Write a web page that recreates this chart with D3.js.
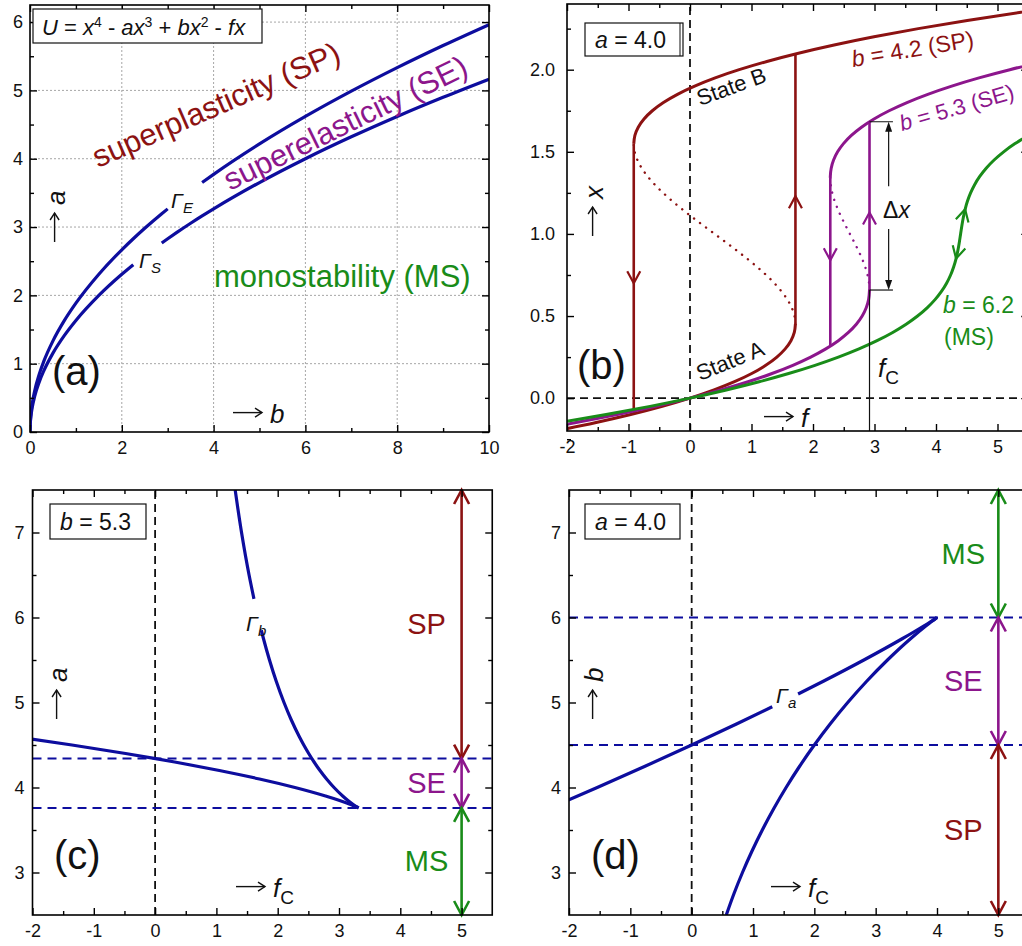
<!DOCTYPE html>
<html>
<head>
<meta charset="utf-8">
<title>Regimes of U = x^4 - ax^3 + bx^2 - fx</title>
<script src="https://cdn.jsdelivr.net/npm/d3@7/dist/d3.min.js"></script>
<style>
  html, body { margin: 0; padding: 0; background: #fff; }
  svg { display: block; }
  text { white-space: pre; }
</style>
</head>
<body>
<svg id="fig" width="1022" height="946" viewBox="0 0 1022 946"></svg>
<script>
// ---------------- data ----------------

// (a) boundaries in the (b, a) plane: Γ_S and Γ_E
const bBoundary = [0, 0.005, 0.01, 0.02, 0.05, 0.1, 0.2, 0.3, 0.5, 0.75, 1, 1.5, 2, 2.25, 2.5, 2.87, 3, 3.2, 3.5, 3.75, 4, 5, 6, 7, 8, 9, 10];
const aGammaS = [0, 0.1155, 0.1633, 0.2309, 0.3651, 0.5164, 0.7303, 0.8944, 1.1547, 1.4142, 1.6330, 2.0000, 2.3094, 2.4495, 2.5820, 2.7665, 2.8284, 2.9212, 3.0551, 3.1623, 3.2660, 3.6515, 4.0000, 4.3205, 4.6188, 4.8990, 5.1640];
const aGammaE = [0, 0.1333, 0.1886, 0.2667, 0.4216, 0.5963, 0.8433, 1.0328, 1.3333, 1.6330, 1.8856, 2.3094, 2.6667, 2.8284, 2.9814, 3.1944, 3.2660, 3.3731, 3.5277, 3.6515, 3.7712, 4.2164, 4.6188, 4.9889, 5.3333, 5.6569, 5.9628];
const gapGammaS = [2.25, 2.87];   // b-range left open for the Γ_S label
const gapGammaE = [3.0, 3.75];    // b-range left open for the Γ_E label

// (b) equilibrium position x versus force f at a = 4.0
const xSP = [-0.2, -0.15, -0.1, -0.05, 0, 0.05, 0.1, 0.15, 0.2, 0.25, 0.3, 0.35, 0.4, 0.4523, 0.5, 0.55, 0.6, 0.65, 0.7, 0.75, 0.8, 0.85, 0.9, 0.95, 1.0, 1.05, 1.1, 1.15, 1.2, 1.25, 1.3, 1.35, 1.4, 1.45, 1.5, 1.5477, 1.6, 1.65, 1.7, 1.75, 1.8, 1.85, 1.9, 1.95, 2.0, 2.05, 2.1, 2.15, 2.2, 2.25, 2.3, 2.35, 2.4];
const fSP = [-2.192, -1.5435, -0.964, -0.4505, 0, 0.3905, 0.724, 1.0035, 1.232, 1.4125, 1.548, 1.6415, 1.696, 1.7145, 1.7, 1.6555, 1.584, 1.4885, 1.372, 1.2375, 1.088, 0.9265, 0.756, 0.5795, 0.4, 0.2205, 0.044, -0.1265, -0.288, -0.4375, -0.572, -0.6885, -0.784, -0.8555, -0.9, -0.9145, -0.896, -0.8415, -0.748, -0.6125, -0.432, -0.2035, 0.076, 0.4095, 0.8, 1.2505, 1.764, 2.3435, 2.992, 3.7125, 4.508, 5.3815, 6.336];
const xSE = [-0.2, -0.15, -0.1, -0.05, 0, 0.05, 0.1, 0.15, 0.2, 0.25, 0.3, 0.35, 0.4, 0.45, 0.5, 0.55, 0.6, 0.6584, 0.7, 0.75, 0.8, 0.85, 0.9, 0.95, 1.0, 1.05, 1.1, 1.15, 1.2, 1.25, 1.3, 1.3416, 1.35, 1.4, 1.45, 1.5, 1.55, 1.6, 1.65, 1.7, 1.75, 1.8, 1.85, 1.9, 1.95, 2.0, 2.05, 2.1];
const fSE = [-2.632, -1.8735, -1.184, -0.5605, 0, 0.5005, 0.944, 1.3335, 1.672, 1.9625, 2.208, 2.4115, 2.576, 2.7045, 2.8, 2.8655, 2.904, 2.9188, 2.912, 2.8875, 2.848, 2.7965, 2.736, 2.6695, 2.6, 2.5305, 2.464, 2.4035, 2.352, 2.3125, 2.288, 2.2812, 2.2815, 2.296, 2.3345, 2.4, 2.4955, 2.624, 2.7885, 2.992, 3.2375, 3.528, 3.8665, 4.256, 4.6995, 5.2, 5.7605, 6.384];
const xMS = [-0.2, -0.15, -0.1, -0.05, 0, 0.05, 0.1, 0.15, 0.2, 0.25, 0.3, 0.35, 0.4, 0.45, 0.5, 0.55, 0.6, 0.65, 0.7, 0.75, 0.8, 0.85, 0.9, 0.95, 1.0, 1.05, 1.1, 1.15, 1.2, 1.25, 1.3, 1.35, 1.4, 1.45, 1.5, 1.55, 1.6, 1.65, 1.7];
const fMS = [-2.992, -2.1435, -1.364, -0.6505, 0, 0.5905, 1.124, 1.6035, 2.032, 2.4125, 2.748, 3.0415, 3.296, 3.5145, 3.7, 3.8555, 3.984, 4.0885, 4.172, 4.2375, 4.288, 4.3265, 4.356, 4.3795, 4.4, 4.4205, 4.444, 4.4735, 4.512, 4.5625, 4.628, 4.7115, 4.816, 4.9445, 5.1, 5.2855, 5.504, 5.7585, 6.052];
const spinodalSP = [0.4523, 1.5477];
const spinodalSE = [0.6584, 1.3416];
const jumpsSP = [{ f: -0.9145, from: 1.5477, to: -0.0954, tip: 0.70 }, { f: 1.7145, from: 0.4523, to: 2.0954, tip: 1.23 }];
const jumpsSE = [{ f: 2.2812, from: 1.3416, to: 0.3169, tip: 0.84 }, { f: 2.9188, from: 0.6584, to: 1.6831, tip: 1.13 }];
const fCritical = 2.9188;              // forward switching force for b = 5.3
const deltaX = [0.6584, 1.6831];       // jump height at f_C

// (c) critical forces versus a at b = 5.3 (Γ_b)
const aForward = [3.7594, 3.77, 3.8, 3.85, 3.9, 4.0, 4.1, 4.2, 4.3, 4.4, 4.5, 4.6, 4.8, 5.0, 5.25, 5.5, 5.75, 5.85, 6.0, 6.22, 6.5, 7.0, 7.5];
const fcForwardC = [3.3208, 3.2955, 3.2322, 3.1407, 3.0598, 2.9188, 2.7973, 2.6898, 2.5933, 2.5056, 2.4254, 2.3513, 2.2186, 2.1027, 1.9762, 1.8658, 1.7684, 1.7326, 1.6816, 1.6126, 1.5330, 1.4101, 1.3063];
const aBackward = [3.7594, 3.77, 3.8, 3.85, 3.9, 4.0, 4.1, 4.2, 4.3, 4.34, 4.4, 4.5, 4.57, 4.6];
const fcBackwardC = [3.3208, 3.2899, 3.1898, 2.9977, 2.7805, 2.2812, 1.7025, 1.0482, 0.3199, 0.0081, -0.4817, -1.3566, -2.0128, -2.3053];
const gapGammaB = [5.85, 6.22];
const bandsC = [{ name: "SP", lo: 4.341, hi: 7.5 }, { name: "SE", lo: 3.759, hi: 4.341 }, { name: "MS", lo: 2.5, hi: 3.759 }];

// (d) critical forces versus b at a = 4.0 (Γ_a)
const bForward = [6.0, 5.99, 5.95, 5.9, 5.75, 5.5, 5.25, 5.0, 4.75, 4.5, 4.25, 4.0, 3.75, 3.5, 3.25, 3.0, 2.75, 2.5];
const fcForwardD = [4.0, 3.9805, 3.9061, 3.8172, 3.5680, 3.1925, 2.8536, 2.5443, 2.2607, 2.0, 1.7601, 1.5396, 1.3371, 1.1517, 0.9823, 0.8284, 0.6892, 0.5642];
const bBackward = [6.0, 5.99, 5.95, 5.9, 5.75, 5.5, 5.25, 5.1, 5.0, 4.95, 4.75, 4.5, 4.25, 4.0, 3.85, 3.75];
const fcBackwardD = [4.0, 3.9795, 3.8939, 3.7828, 3.4320, 2.8076, 2.1464, 1.7352, 1.4557, 1.3143, 0.7393, 0.0, -0.7601, -1.5396, -2.0160, -2.3371];
const gapGammaA = [4.95, 5.1];
const bandsD = [{ name: "MS", lo: 6.0, hi: 7.5 }, { name: "SE", lo: 4.5, hi: 6.0 }, { name: "SP", lo: 2.5, hi: 4.5 }];
const bandForce = 5;

// tick values
const ticksA = { xMajor: [0, 2, 4, 6, 8, 10], xMinor: [1, 3, 5, 7, 9], yMajor: [0, 1, 2, 3, 4, 5, 6], yMinor: [0.5, 1.5, 2.5, 3.5, 4.5, 5.5] };
const ticksB = { xMajor: [-2, -1, 0, 1, 2, 3, 4, 5], xMinor: [-1.5, -0.5, 0.5, 1.5, 2.5, 3.5, 4.5], yMajor: [0, 0.5, 1, 1.5, 2], yMinor: [-0.25, 0.25, 0.75, 1.25, 1.75, 2.25] };
const ticksCD = { xMajor: [-2, -1, 0, 1, 2, 3, 4, 5], xMinor: [-1.5, -0.5, 0.5, 1.5, 2.5, 3.5, 4.5], yMajor: [3, 4, 5, 6, 7], yMinor: [3.5, 4.5, 5.5, 6.5] };

// ---------------- drawing ----------------
const svg = d3.select("#fig");
const defs = svg.append("defs");
const FONT = "'Liberation Sans', Arial, Helvetica, sans-serif";
const COL = { sp: "#8c1212", se: "#8c168c", ms: "#198c19", blue: "#0d0d9e", grid: "#a6a6a6" };

const pairs = (xs, ys) => xs.map((v, i) => [v, ys[i]]);
const within = (pts, lo, hi) => pts.filter(d => d[0] >= lo && d[0] <= hi);

function makePanel(id, xDom, xRange, yDom, yRange) {
  const x = d3.scaleLinear().domain(xDom).range(xRange);
  const y = d3.scaleLinear().domain(yDom).range(yRange);
  const g = svg.append("g").attr("id", "panel-" + id);
  const cid = "clip-" + id;
  defs.append("clipPath").attr("id", cid).append("rect")
    .attr("x", xRange[0]).attr("y", yRange[1])
    .attr("width", xRange[1] - xRange[0]).attr("height", yRange[0] - yRange[1]);
  const plot = g.append("g").attr("clip-path", `url(#${cid})`);
  return { x, y, g, plot };
}

function drawAxes(p, t, fmtX, fmtY, padL) {
  const [xl, xr] = p.x.range();
  const [yb, yt] = p.y.range();
  const tidy = sel => {
    sel.select(".domain").remove();
    sel.attr("font-family", FONT).attr("font-size", 18);
    sel.selectAll("line").attr("stroke", "#000").attr("stroke-width", 1.4);
    sel.selectAll("text").attr("fill", "#111");
  };
  const add = (axis, tr) => p.g.append("g").attr("transform", tr).call(axis).call(tidy);
  add(d3.axisBottom(p.x).tickValues(t.xMajor).tickSizeInner(-7).tickSizeOuter(0).tickPadding(9).tickFormat(fmtX), `translate(0,${yb})`);
  add(d3.axisBottom(p.x).tickValues(t.xMinor).tickSizeInner(-4).tickSizeOuter(0).tickFormat(""), `translate(0,${yb})`);
  add(d3.axisTop(p.x).tickValues(t.xMajor).tickSizeInner(-7).tickSizeOuter(0).tickFormat(""), `translate(0,${yt})`);
  add(d3.axisTop(p.x).tickValues(t.xMinor).tickSizeInner(-4).tickSizeOuter(0).tickFormat(""), `translate(0,${yt})`);
  add(d3.axisLeft(p.y).tickValues(t.yMajor).tickSizeInner(-7).tickSizeOuter(0).tickPadding(padL).tickFormat(fmtY), `translate(${xl},0)`);
  add(d3.axisLeft(p.y).tickValues(t.yMinor).tickSizeInner(-4).tickSizeOuter(0).tickFormat(""), `translate(${xl},0)`);
  add(d3.axisRight(p.y).tickValues(t.yMajor).tickSizeInner(-7).tickSizeOuter(0).tickFormat(""), `translate(${xr},0)`);
  add(d3.axisRight(p.y).tickValues(t.yMinor).tickSizeInner(-4).tickSizeOuter(0).tickFormat(""), `translate(${xr},0)`);
  p.g.append("rect").attr("x", xl).attr("y", yt).attr("width", xr - xl).attr("height", yb - yt)
    .attr("fill", "none").attr("stroke", "#000").attr("stroke-width", 1.6);
}

// rich text: parts are strings or {t, i (italic), dy, size}
function label(parent, x, y, parts, o = {}) {
  const t = parent.append("text")
    .attr("font-family", FONT).attr("font-size", o.size || 22)
    .attr("fill", o.color || "#111").attr("text-anchor", o.anchor || "start");
  if (o.rotate) t.attr("transform", `translate(${x},${y}) rotate(${o.rotate})`);
  else t.attr("x", x).attr("y", y);
  parts.forEach(p => {
    if (typeof p === "string") p = { t: p };
    const s = t.append("tspan").text(p.t);
    if (p.i) s.attr("font-style", "italic");
    if (p.dy) s.attr("dy", p.dy);
    if (p.size) s.attr("font-size", p.size);
  });
  return t;
}

// axis caption of the form "→ var": a drawn arrow followed by the variable
function arrowCaption(parent, x, y, rot, parts, size = 26) {
  const g = parent.append("g").attr("transform", `translate(${x},${y}) rotate(${rot})`);
  const L = 29, yc = -0.4 * size;
  g.append("line").attr("x1", 0).attr("x2", L).attr("y1", yc).attr("y2", yc)
    .attr("stroke", "#111").attr("stroke-width", 1.4);
  g.append("path").attr("d", `M${L - 7},${yc - 4.5}L${L},${yc}L${L - 7},${yc + 4.5}`)
    .attr("fill", "none").attr("stroke", "#111").attr("stroke-width", 1.4);
  label(g, L + 8, 0, parts, { size });
}

function chevron(parent, px, py, rot, color, hw, h, sw) {
  parent.append("path")
    .attr("d", `M${-hw},${-h}L0,0L${hw},${-h}`)
    .attr("transform", `translate(${px},${py}) rotate(${rot})`)
    .attr("fill", "none").attr("stroke", color).attr("stroke-width", sw)
    .attr("stroke-linejoin", "miter");
}

function hDash(p, v, color, w, dash) {
  const [xl, xr] = p.x.range();
  p.plot.append("line").attr("x1", xl).attr("x2", xr).attr("y1", p.y(v)).attr("y2", p.y(v))
    .attr("stroke", color).attr("stroke-width", w).attr("stroke-dasharray", dash);
}
function vDash(p, v, color, w, dash) {
  const [yb, yt] = p.y.range();
  p.plot.append("line").attr("y1", yb).attr("y2", yt).attr("x1", p.x(v)).attr("x2", p.x(v))
    .attr("stroke", color).attr("stroke-width", w).attr("stroke-dasharray", dash);
}

function boxLabel(parent, x, y, w, h, tx, ty, parts) {
  parent.append("rect").attr("x", x).attr("y", y).attr("width", w).attr("height", h)
    .attr("fill", "#fff").attr("stroke", "#111").attr("stroke-width", 1.2);
  label(parent, tx, ty, parts, { size: 23 });
}

const stroke = (sel, c, w) => sel.attr("fill", "none").attr("stroke", c).attr("stroke-width", w);

// ===== (a) phase diagram in the (b, a) plane =====
const pA = makePanel("a", [0, 10], [30, 489], [0, 6.25], [432, 5]);
[2, 4, 6, 8].forEach(v => pA.plot.append("line")
  .attr("x1", pA.x(v)).attr("x2", pA.x(v)).attr("y1", pA.y(0)).attr("y2", pA.y(6.25))
  .attr("stroke", COL.grid).attr("stroke-width", 1).attr("stroke-dasharray", "2,2"));
[1, 2, 3, 4, 5, 6].forEach(v => pA.plot.append("line")
  .attr("y1", pA.y(v)).attr("y2", pA.y(v)).attr("x1", pA.x(0)).attr("x2", pA.x(10))
  .attr("stroke", COL.grid).attr("stroke-width", 1).attr("stroke-dasharray", "2,2"));

const lineA = d3.line().x(d => pA.x(d[0])).y(d => pA.y(d[1])).curve(d3.curveMonotoneX);
[[aGammaS, gapGammaS], [aGammaE, gapGammaE]].forEach(([arr, gap]) => {
  const pts = pairs(bBoundary, arr);
  [within(pts, -Infinity, gap[0]), within(pts, gap[1], Infinity)].forEach(s =>
    pA.plot.append("path").attr("d", lineA(s)).call(stroke, COL.blue, 3.2));
});
drawAxes(pA, ticksA, d => String(d), d => String(d), 7);

pA.g.append("rect").attr("x", 33).attr("y", 9).attr("width", 229).attr("height", 34)
  .attr("fill", "#fff").attr("stroke", "#111").attr("stroke-width", 1.2);
label(pA.g, 42, 35, [{ t: "U", i: 1 }, " = ", { t: "x", i: 1 }, { t: "4", dy: -8, size: 14 }, { t: " - ", dy: 8 },
  { t: "ax", i: 1 }, { t: "3", dy: -8, size: 14 }, { t: " + ", dy: 8 }, { t: "bx", i: 1 }, { t: "2", dy: -8, size: 14 },
  { t: " - ", dy: 8 }, { t: "fx", i: 1 }], { size: 22 });

label(pA.g, 98, 168, ["superplasticity (SP)"], { size: 31, color: COL.sp, rotate: -23.6 });
label(pA.g, 230, 191, ["superelasticity (SE)"], { size: 31, color: COL.se, rotate: -26 });
label(pA.g, 214, 287, ["monostability (MS)"], { size: 31, color: COL.ms });
label(pA.g, 171, 208, [{ t: "Γ", i: 1 }, { t: "E", i: 1, size: 15, dy: 5 }], { size: 21 });
label(pA.g, 139, 268, [{ t: "Γ", i: 1 }, { t: "S", i: 1, size: 15, dy: 5 }], { size: 21 });
arrowCaption(pA.g, 65, 242, -90, [{ t: "a", i: 1 }]);
label(pA.g, 52, 385, ["(a)"], { size: 40 });
arrowCaption(pA.g, 233, 423, 0, [{ t: "b", i: 1 }]);

// ===== (b) x versus f at a = 4.0 =====
const pB = makePanel("b", [-2, 5.5], [567, 1028.25], [-0.2, 2.4], [431, 4]);
hDash(pB, 0, "#111", 1.8, "8,5");
vDash(pB, 0, "#111", 1.8, "8,5");

const lineB = d3.line().x(d => pB.x(d[1])).y(d => pB.y(d[0])).curve(d3.curveMonotoneY);

function sCurve(xs, fs, spin, color, jumps) {
  const pts = pairs(xs, fs);
  // unstable middle branch, dotted
  pB.plot.append("path").attr("d", lineB(within(pts, spin[0], spin[1])))
    .call(stroke, color, 2.4).attr("stroke-dasharray", "0.1,7.4").attr("stroke-linecap", "round");
  // switching jumps with direction marks
  jumps.forEach(j => {
    pB.plot.append("line").attr("x1", pB.x(j.f)).attr("x2", pB.x(j.f))
      .attr("y1", pB.y(j.from)).attr("y2", pB.y(j.to)).call(stroke, color, 2.6);
    chevron(pB.plot, pB.x(j.f), pB.y(j.tip), j.to < j.from ? 0 : 180, color, 6.5, 12, 2.2);
  });
  // stable branches A and B
  [within(pts, -Infinity, spin[0]), within(pts, spin[1], Infinity)].forEach(s =>
    pB.plot.append("path").attr("d", lineB(s)).call(stroke, color, 3));
}
sCurve(xSP, fSP, spinodalSP, COL.sp, jumpsSP);
sCurve(xSE, fSE, spinodalSE, COL.se, jumpsSE);

// monostable curve with reversible direction marks
pB.plot.append("path").attr("d", lineB(pairs(xMS, fMS))).call(stroke, COL.ms, 3);
[[1.15, 1], [0.85, -1]].forEach(([xv, dir]) => {
  const i = xMS.indexOf(xv);
  const dx = pB.x(fMS[i + 1]) - pB.x(fMS[i - 1]), dy = pB.y(xMS[i + 1]) - pB.y(xMS[i - 1]);
  const rot = Math.atan2(dy * dir, dx * dir) * 180 / Math.PI - 90;
  chevron(pB.plot, pB.x(fMS[i]), pB.y(xMS[i]), rot, COL.ms, 6.5, 12, 2.2);
});

// f_C marker and Δx annotation
const fx = pB.x(fCritical);
pB.plot.append("line").attr("x1", fx).attr("x2", fx).attr("y1", pB.y(deltaX[0])).attr("y2", pB.y(-0.2))
  .attr("stroke", "#111").attr("stroke-width", 1.2);
deltaX.forEach(v => pB.plot.append("line").attr("x1", fx).attr("x2", pB.x(3.3))
  .attr("y1", pB.y(v)).attr("y2", pB.y(v)).attr("stroke", "#111").attr("stroke-width", 1.2));
const ax = pB.x(3.23);
pB.plot.append("line").attr("x1", ax).attr("x2", ax).attr("y1", pB.y(deltaX[1]) + 6).attr("y2", pB.y(1.29))
  .attr("stroke", "#111").attr("stroke-width", 1.2);
pB.plot.append("line").attr("x1", ax).attr("x2", ax).attr("y1", pB.y(1.03)).attr("y2", pB.y(deltaX[0]) - 6)
  .attr("stroke", "#111").attr("stroke-width", 1.2);
pB.plot.append("path").attr("d", "M0,0L-3.5,10L3.5,10Z").attr("fill", "#111")
  .attr("transform", `translate(${ax},${pB.y(deltaX[1])})`);
pB.plot.append("path").attr("d", "M0,0L-3.5,-10L3.5,-10Z").attr("fill", "#111")
  .attr("transform", `translate(${ax},${pB.y(deltaX[0])})`);

drawAxes(pB, ticksB, d => String(d), d3.format(".1f"), 12);

boxLabel(pB.g, 585, 23, 98, 33, 595, 48, [{ t: "a", i: 1 }, " = 4.0"]);
pB.g.append("line").attr("x1", 680).attr("x2", 680).attr("y1", 23).attr("y2", 56).attr("stroke", "#111").attr("stroke-width", 1);

label(pB.g, 700, 106, ["State B"], { size: 22, rotate: -20 });
label(pB.g, 700, 381, ["State A"], { size: 22, rotate: -22 });
label(pB.g, 853, 67, [{ t: "b", i: 1 }, " = 4.2 (SP)"], { size: 23, color: COL.sp, rotate: -9.5 });
label(pB.g, 902, 131, [{ t: "b", i: 1 }, " = 5.3 (SE)"], { size: 22, color: COL.se, rotate: -16 });
label(pB.g, 943, 313, [{ t: "b", i: 1 }, " = 6.2"], { size: 23, color: COL.ms });
label(pB.g, 944, 345, ["(MS)"], { size: 23, color: COL.ms });
label(pB.g, 883, 218, ["Δ", { t: "x", i: 1 }], { size: 23 });
label(pB.g, 878, 377, [{ t: "f", i: 1 }, { t: "C", size: 19, dy: 7 }], { size: 26 });
arrowCaption(pB.g, 603, 236, -90, [{ t: "x", i: 1 }]);
label(pB.g, 577, 379, ["(b)"], { size: 40 });
arrowCaption(pB.g, 764, 427, 0, [{ t: "f", i: 1 }]);

// ===== (c) and (d) critical-force diagrams =====
function criticalPanel(id, xRange, fwd, bwd, gap, borders, bands, boxParts, axisVar, gammaSub, gammaPos, tags) {
  const p = makePanel(id, [-2, 5.5], xRange, [2.5, 7.5], [915, 490]);
  vDash(p, 0, "#111", 1.8, "8,5");
  borders.forEach(v => hDash(p, v, COL.blue, 1.8, "9,6"));
  const line = d3.line().x(d => p.x(d[1])).y(d => p.y(d[0])).curve(d3.curveMonotoneY);
  const draw = s => p.plot.append("path").attr("d", line(s)).call(stroke, COL.blue, 3.2);
  const gapped = gap.branch === "fwd" ? fwd : bwd;
  const plain = gap.branch === "fwd" ? bwd : fwd;
  draw(plain);
  draw(within(gapped, -Infinity, gap.range[0]));
  draw(within(gapped, gap.range[1], Infinity));

  const colors = { SP: COL.sp, SE: COL.se, MS: COL.ms };
  const bx = p.x(bandForce);
  bands.forEach(b => {
    const c = colors[b.name];
    p.g.append("line").attr("x1", bx).attr("x2", bx).attr("y1", p.y(b.lo)).attr("y2", p.y(b.hi)).call(stroke, c, 2.6);
    chevron(p.g, bx, p.y(b.hi), 180, c, 7.5, 14, 2.6);
    chevron(p.g, bx, p.y(b.lo), 0, c, 7.5, 14, 2.6);
    label(p.g, bx - 35, p.y((b.lo + b.hi) / 2) + 10, [b.name], { size: 29, color: c, anchor: "middle" });
  });

  drawAxes(p, ticksCD, d => String(d), d => String(d), 8);
  boxLabel(p.g, tags.box[0], 504, tags.box[1], 35, tags.box[0] + 10, 530, boxParts);
  label(p.g, gammaPos[0], gammaPos[1], [{ t: "Γ", i: 1 }, { t: gammaSub, i: 1, size: 15, dy: 5 }], { size: 21 });
  arrowCaption(p.g, tags.vlab, 719, -90, [{ t: axisVar, i: 1 }]);
  label(p.g, tags.letter[0], 869, [tags.letter[1]], { size: 40 });
  arrowCaption(p.g, tags.flab, 897, 0, [{ t: "f", i: 1 }, { t: "C", size: 19, dy: 7 }]);
  return p;
}

criticalPanel("c", [32.5, 492.25], pairs(aForward, fcForwardC), pairs(aBackward, fcBackwardC),
  { branch: "fwd", range: gapGammaB }, [4.341, 3.759], bandsC,
  [{ t: "b", i: 1 }, " = 5.3"], "a", "b", [246, 631],
  { box: [50, 96], vlab: 67, letter: [54, "(c)"], flab: 236 });

criticalPanel("d", [569, 1029], pairs(bForward, fcForwardD), pairs(bBackward, fcBackwardD),
  { branch: "bwd", range: gapGammaA }, [6.0, 4.5], bandsD,
  [{ t: "a", i: 1 }, " = 4.0"], "b", "a", [776, 703],
  { box: [585, 95], vlab: 603, letter: [591, "(d)"], flab: 771 });
</script>
</body>
</html>
